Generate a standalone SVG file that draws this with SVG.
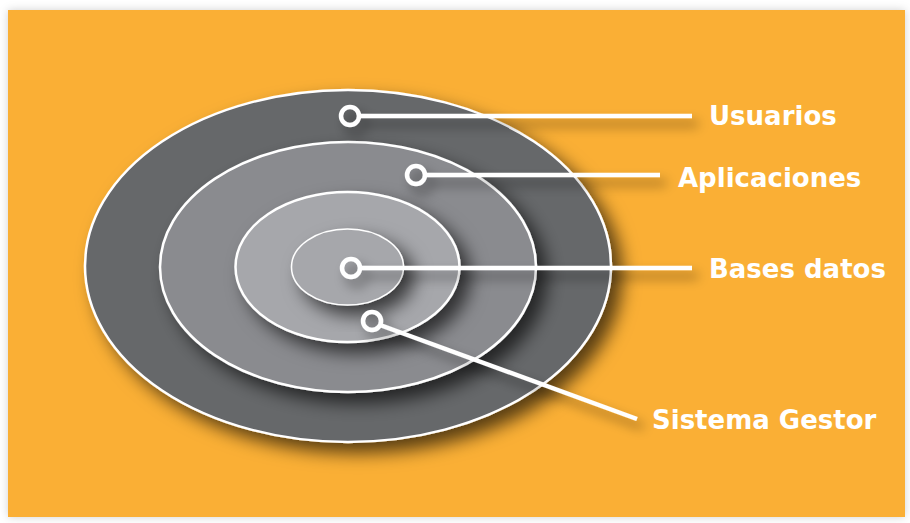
<svg xmlns="http://www.w3.org/2000/svg" width="910" height="523" viewBox="0 0 910 523">
<defs>
<filter id="bgsh" x="-5%" y="-5%" width="110%" height="110%">
<feDropShadow dx="0" dy="0" stdDeviation="4" flood-color="#000" flood-opacity="0.18"/>
</filter>
<filter id="sh" x="-20%" y="-20%" width="150%" height="155%">
<feDropShadow dx="10" dy="10" stdDeviation="9" flood-color="#000" flood-opacity="0.65"/>
</filter>
<filter id="lsh" x="-20%" y="-50%" width="140%" height="300%">
<feDropShadow dx="6" dy="8" stdDeviation="6" flood-color="#000" flood-opacity="0.45"/>
</filter>
<style>
.ring{stroke:#fff;stroke-width:2.5}
.lbl{font-family:"DejaVu Sans",Verdana,sans-serif;font-weight:bold;font-size:26px;fill:#fff}
.con{stroke:#fff;stroke-width:4.5;fill:none}
.dot{stroke:#fff;stroke-width:4.5;fill:none}
</style>
</defs>
<rect x="0" y="0" width="910" height="523" fill="#fff"/>
<rect x="8" y="10" width="897" height="507" fill="#FAAF34" filter="url(#bgsh)"/>
<g id="ring-usuarios">
<ellipse class="ring" cx="348" cy="266" rx="263" ry="176" fill="#66676B" filter="url(#sh)"/>
<text class="lbl" x="709" y="125">Usuarios</text>
</g>
<g id="ring-aplicaciones">
<ellipse class="ring" cx="348" cy="267" rx="188" ry="125" fill="#8A8B8F" filter="url(#sh)"/>
<text class="lbl" x="678" y="187">Aplicaciones</text>
</g>
<g id="ring-sistema-gestor">
<ellipse class="ring" cx="347.5" cy="267" rx="112" ry="75" fill="#A6A7AB" filter="url(#sh)"/>
<text class="lbl" x="652" y="429">Sistema Gestor</text>
</g>
<g id="ring-bases-datos">
<ellipse cx="347.5" cy="267" rx="56" ry="38" fill="#A6A7AB" stroke="#fff" stroke-width="1.5" filter="url(#sh)"/>
<text class="lbl" x="709" y="278">Bases datos</text>
</g>
<g id="connectors" filter="url(#lsh)">
<line class="con" x1="360" y1="116" x2="692" y2="116"/>
<line class="con" x1="426" y1="175" x2="660" y2="175"/>
<line class="con" x1="361" y1="268" x2="692" y2="268"/>
<line class="con" x1="380" y1="325" x2="637" y2="419"/>
<circle class="dot" cx="350" cy="116" r="9"/>
<circle class="dot" cx="416" cy="175" r="9"/>
<circle class="dot" cx="351" cy="268" r="9"/>
<circle class="dot" cx="372" cy="321" r="9"/>
</g>
</svg>
